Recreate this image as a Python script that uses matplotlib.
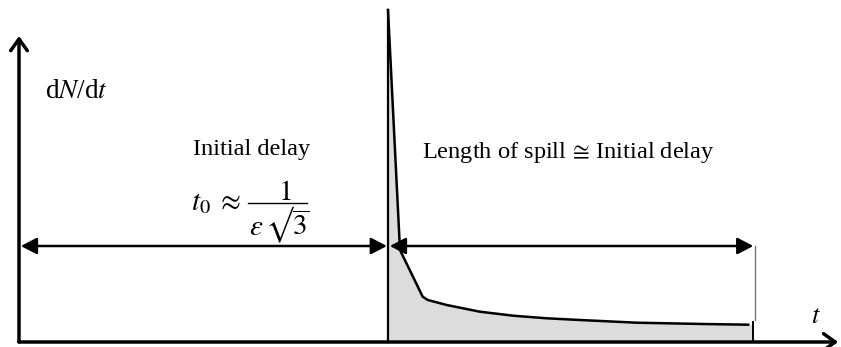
import matplotlib
matplotlib.use("Agg")
import matplotlib.pyplot as plt
from matplotlib.patches import FancyArrowPatch, Polygon

plt.rcParams["mathtext.fontset"] = "stix"
SERIF = ["Liberation Serif", "DejaVu Sans"]

# Time in units of the initial delay t0; rate dN/dt in arbitrary units
delay = 1.0
spill_end = 1.99
arrow_level = 0.96
y_axis_top = 3.06
x_axis_end = 2.22

curve_t = [1.0, 1.0325, 1.094, 1.108, 1.159, 1.249, 1.339, 1.430, 1.520, 1.674, 1.854, 1.976]
curve_r = [3.32, 0.92, 0.453, 0.42, 0.37, 0.303, 0.263, 0.237, 0.22, 0.193, 0.18, 0.173]

fig = plt.figure(figsize=(8.41, 3.47), dpi=100)
ax = fig.add_axes([0, 0, 1, 1])
ax.set_xlim(-19 / 369, 822 / 369)
ax.set_ylim(-0.05, 3.42)
ax.axis("off")

# shaded area under the extraction curve
poly_pts = [(delay, 0)] + list(zip(curve_t, curve_r)) + [(spill_end, curve_r[-1]), (spill_end, 0)]
ax.add_patch(Polygon(poly_pts, closed=True, facecolor="#dcdcdc", edgecolor="none", zorder=1))

# extraction curve and spill start line
ax.plot(curve_t, curve_r, color="black", lw=1.8, solid_joinstyle="miter", zorder=3)
ax.plot([delay, delay], [0, curve_r[0]], color="black", lw=1.6, zorder=3)

# spill end marker
ax.plot([spill_end + 0.005, spill_end + 0.005], [curve_r[-1] + 0.05, arrow_level], color="#777777", lw=1.0, zorder=3)
ax.plot([spill_end, spill_end], [0, curve_r[-1] + 0.03], color="black", lw=1.4, zorder=3)


def axis_arrow(p0, p1):
    ax.add_patch(FancyArrowPatch(p0, p1, arrowstyle="->,head_length=0.42,head_width=0.3",
                                 mutation_scale=20, lw=2.5, color="black",
                                 shrinkA=0, shrinkB=0, zorder=4))


def span_arrow(p0, p1):
    ax.add_patch(FancyArrowPatch(p0, p1, arrowstyle="<|-|>,head_length=0.48,head_width=0.25",
                                 mutation_scale=20, lw=1.8, color="black",
                                 shrinkA=0, shrinkB=0, zorder=4))


axis_arrow((0, 0), (0, y_axis_top))
axis_arrow((0, 0), (x_axis_end, 0))

span_arrow((0.005, arrow_level), (delay - 0.003, arrow_level))
span_arrow((delay + 0.005, arrow_level), (spill_end, arrow_level))

# labels
ax.text(0.07, 2.445, r"d$N$/d$t$", family=SERIF, fontsize=19.5, ha="left", va="baseline")
ax.text(0.63, 1.87, "Initial delay", family=SERIF, fontsize=17.6, ha="center", va="baseline")

# t0 ~ 1/(eps sqrt 3), composed piece by piece
ax.text(0.466, 1.32, r"$t_0\;\approx$", fontsize=21, ha="left", va="baseline")
ax.plot([0.621, 0.781], [1.39, 1.39], color="black", lw=1.0, zorder=3)
ax.text(0.72, 1.42, r"$1$", fontsize=21, ha="center", va="baseline")
ax.text(0.705, 1.07, "$\\varepsilon\\,\u221a\\overline{3}$", fontsize=21, ha="center", va="baseline")

ax.text(1.0925, 1.84, r"Length of spill $\!\cong\!$ Initial delay", family=SERIF, fontsize=17.6,
        ha="left", va="baseline")
ax.text(2.16, 0.26, r"$t$", fontsize=19, ha="center", va="center")

fig.savefig("out.png", dpi=100)
